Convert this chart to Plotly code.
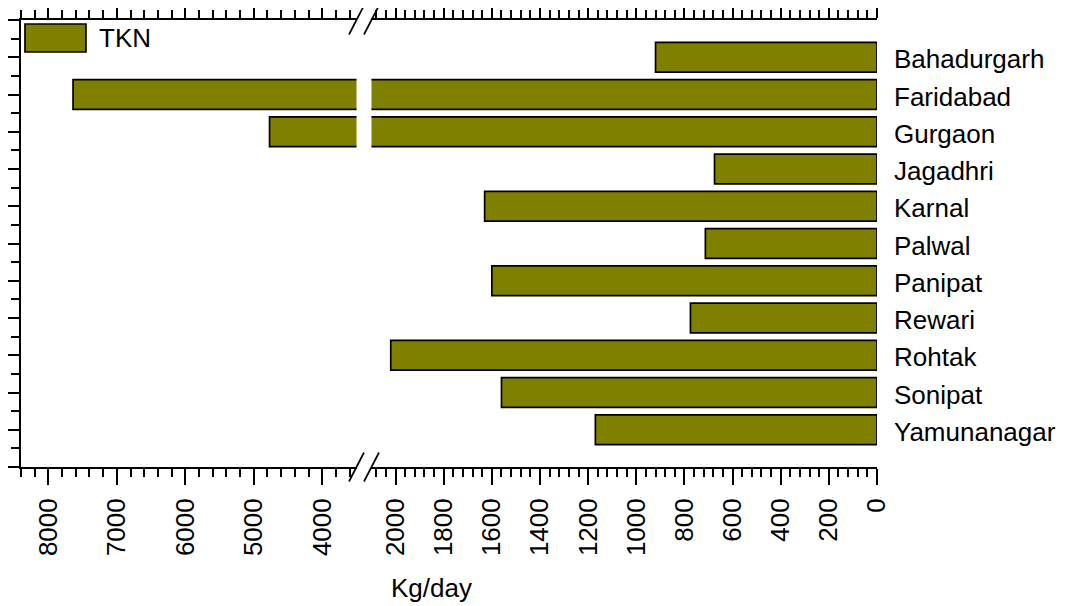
import plotly.graph_objects as go

categories = ["Bahadurgarh", "Faridabad", "Gurgaon", "Jagadhri", "Karnal", "Palwal",
              "Panipat", "Rewari", "Rohtak", "Sonipat", "Yamunanagar"]
tkn = [920, 7640, 4770, 675, 1630, 713, 1600, 775, 2020, 1560, 1170]
series_name = "TKN"
left_ticks = [8000, 7000, 6000, 5000, 4000]
right_ticks = [2000, 1800, 1600, 1400, 1200, 1000, 800, 600, 400, 200, 0]

# the page adds an 8px body margin: target page pixels are converted to figure pixels
OFF = 8
W, H = 1073, 606
PL, PR, PT, PB = 21, 877.5, 20, 466.7          # plot box in page pixels
ML, MT = PL - OFF, PT - OFF
MR, MB = W - (PR - OFF), H - (PB - OFF)
PW = PR - PL
PH = PB - PT
d1 = (356.7 - PL) / PW
d2 = (371.7 - PL) / PW


def px(x):
    return (x - PL) / PW


def py(y):
    return 1 - (y - PT) / PH


pos = list(range(len(categories)))
bounds = [p - 0.5 for p in pos] + [pos[-1] + 0.5]
edge_ticks = [-1] + pos + [len(pos)]
yrange = [len(pos), -1]

FONT = "Liberation Sans, Arial, sans-serif"
OLIVE = "#808000"
LW = 1.7

fig = go.Figure()
for xa in ["x", "x2"]:
    fig.add_trace(go.Bar(
        x=tkn, y=pos, orientation="h", name=series_name, xaxis=xa, yaxis="y",
        width=0.8, marker=dict(color=OLIVE, line=dict(color="black", width=1.7)),
        showlegend=False))

common_x = dict(showline=True, linecolor="black", linewidth=LW, mirror="ticks",
                ticks="outside", ticklen=16, tickwidth=LW, tickcolor="black",
                tickangle=-90, ticklabelstandoff=3, ticklabeloverflow="allow",
                tickfont=dict(family=FONT, size=26, color="black"),
                showgrid=False, zeroline=False, anchor="y", automargin=False)

fig.update_layout(
    template="none",
    width=W, height=H, margin=dict(l=ML, r=MR, t=MT, b=MB, pad=0, autoexpand=False),
    plot_bgcolor="white", paper_bgcolor="white", bargap=0.2, showlegend=False,
    font=dict(family=FONT, size=26, color="black"),
    xaxis=dict(domain=[0, d1], range=[8400, 3500], tickmode="array", tickvals=left_ticks,
               ticktext=[str(v) for v in left_ticks],
               minor=dict(tick0=0, dtick=200, ticks="outside", ticklen=8, tickwidth=LW,
                          tickcolor="black"), **common_x),
    xaxis2=dict(domain=[d2, 1], range=[2100, 0], tickmode="array", tickvals=right_ticks,
                ticktext=[str(v) for v in right_ticks],
                minor=dict(tick0=0, dtick=40, ticks="outside", ticklen=8, tickwidth=LW,
                           tickcolor="black"), **common_x),
    yaxis=dict(range=yrange, anchor="x", side="left", showline=True,
               linecolor="black", linewidth=LW, tickmode="array", tickvals=edge_ticks,
               ticks="outside", ticklen=13, tickwidth=LW, tickcolor="black",
               showticklabels=False, showgrid=False, zeroline=False, automargin=False,
               minor=dict(tickmode="array", tickvals=bounds, ticks="outside", ticklen=8,
                          tickwidth=LW, tickcolor="black")),
    yaxis2=dict(range=yrange, overlaying="y", anchor="x2", side="right",
                showline=True, linecolor="black", linewidth=LW, tickmode="array",
                tickvals=bounds, ticks="outside", ticklen=9, tickwidth=LW,
                tickcolor="black", showticklabels=False,
                showgrid=False, zeroline=False, automargin=False),
    yaxis3=dict(range=yrange, overlaying="y", anchor="x2", side="right",
                showline=False, tickmode="array", tickvals=bounds, ticks="inside",
                ticklen=8, tickwidth=LW, tickcolor="black", showticklabels=False,
                showgrid=False, zeroline=False, automargin=False),
)

# break marks
sx = 7.5 / PW
sy = 14.5 / PH
shapes = []
for xc in (d1, d2):
    for yc in (0, 1):
        shapes.append(dict(type="line", xref="paper", yref="paper",
                           x0=xc - sx, y0=yc - sy, x1=xc + sx, y1=yc + sy,
                           line=dict(color="black", width=LW)))
# legend swatch
shapes.append(dict(type="rect", xref="paper", yref="paper",
                   x0=px(25), x1=px(86), y0=py(52), y1=py(24),
                   fillcolor=OLIVE, line=dict(color="black", width=1.7)))
fig.update_layout(shapes=shapes)

# category labels on the right, placed through the y axis scale
for p, name in zip(pos, categories):
    fig.add_annotation(text=name, xref="paper", yref="y", x=1, y=p, xshift=15, yshift=-2,
                       xanchor="left", yanchor="middle", showarrow=False,
                       font=dict(family=FONT, size=26, color="black"))

fig.add_annotation(text=series_name, xref="paper", yref="paper",
                   x=px(97), y=py(38), xanchor="left", yanchor="middle",
                   showarrow=False, font=dict(family=FONT, size=26, color="black"))
fig.add_annotation(text="Kg/day", xref="paper", yref="paper",
                   x=px(431.3), y=py(571), xanchor="center", yanchor="top",
                   showarrow=False, font=dict(family=FONT, size=26, color="black"))

fig.write_html("out.html")
